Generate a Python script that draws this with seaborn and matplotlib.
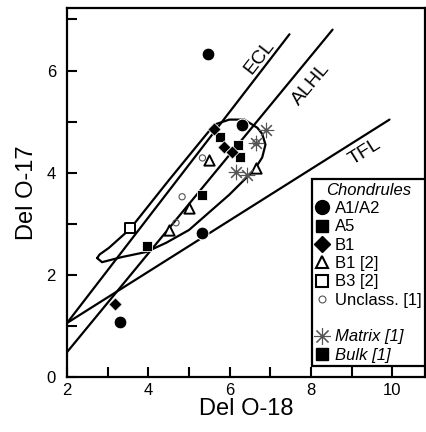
import matplotlib
matplotlib.use("Agg")
import matplotlib.pyplot as plt
import seaborn as sns
import pandas as pd
from matplotlib.lines import Line2D

# ---- reference lines (end points) ----
ecl_x = [2.0, 7.47]
ecl_y = [1.06, 6.71]
alhl_x = [2.0, 8.53]
alhl_y = [0.49, 6.80]
tfl_x = [2.0, 9.93]
tfl_y = [1.06, 5.04]

# ---- envelope around the chondrule data ----
loop_x = [2.74, 2.86, 3.35, 3.95, 4.44, 5.00, 5.99, 6.61, 6.80, 6.88, 6.80, 6.68,
          6.36, 5.99, 5.62, 4.51, 3.55, 3.03, 2.80, 2.74]
loop_y = [2.33, 2.25, 2.35, 2.45, 2.63, 2.88, 3.57, 4.06, 4.30, 4.55, 4.76, 4.88,
          5.04, 5.04, 4.94, 3.86, 2.90, 2.53, 2.40, 2.33]

# ---- chondrule groups ----
a12_x = [5.47, 6.31, 5.32, 3.30]
a12_y = [6.33, 4.94, 2.82, 1.08]
a5_x = [3.97, 5.33, 6.20, 6.25, 5.75]
a5_y = [2.57, 3.57, 4.55, 4.30, 4.70]
b1_x = [3.18, 5.62, 5.85, 6.05]
b1_y = [1.43, 4.85, 4.50, 4.40]
b1b_x = [4.51, 5.00, 5.50, 6.65]
b1b_y = [2.88, 3.31, 4.25, 4.10]
b3_x = [3.55]
b3_y = [2.92]
uncl_x = [4.68, 4.83, 5.33, 6.65]
uncl_y = [3.02, 3.53, 4.29, 4.59]
matrix_x = [6.90, 6.65, 6.16, 6.43]
matrix_y = [4.84, 4.59, 4.02, 3.96]

sns.set_theme(style="ticks")
plt.rcParams["font.family"] = ["Liberation Sans", "DejaVu Sans"]
plt.rcParams["text.color"] = "black"
plt.rcParams["axes.labelcolor"] = "black"

fig = plt.figure(figsize=(4.27, 4.32), dpi=100)
ax = fig.add_axes([0.157, 0.127, 0.838, 0.854])

lw = 1.6
for lx, ly in [(ecl_x, ecl_y), (alhl_x, alhl_y), (tfl_x, tfl_y)]:
    sns.lineplot(x=lx, y=ly, ax=ax, color="black", linewidth=lw, sort=False, estimator=None)
ax.plot(loop_x, loop_y, color="black", linewidth=lw)

matrix_marker = (8, 2, 0)
groups = [
    (a12_x, a12_y, dict(marker="o", s=85, color="black")),
    (a5_x, a5_y, dict(marker="s", s=55, color="black")),
    (b1_x, b1_y, dict(marker="D", s=45, color="black")),
    (b1b_x, b1b_y, dict(marker="^", s=55, facecolor="white", edgecolor="black", linewidth=1.4)),
    (b3_x, b3_y, dict(marker="s", s=55, facecolor="white", edgecolor="black", linewidth=1.4)),
    (uncl_x, uncl_y, dict(marker="o", s=20, facecolor="none", edgecolor="#555555", linewidth=0.8)),
    (matrix_x, matrix_y, dict(marker=matrix_marker, s=110, color="#555555", linewidth=0.8)),
]
for gx, gy, kw in groups:
    sns.scatterplot(x=gx, y=gy, ax=ax, zorder=3, **kw)

ax.text(6.73, 6.25, "ECL", rotation=52, fontsize=14, ha="center", va="center", color="black")
ax.text(8.01, 5.73, "ALHL", rotation=50, fontsize=14, ha="center", va="center", color="black")
ax.text(9.32, 4.41, "TFL", rotation=32, fontsize=14, ha="center", va="center", color="black")

ax.set_xlim(2, 10.8)
ax.set_ylim(0, 7.22)
ax.set_xticks(range(2, 11))
ax.set_xticklabels([str(v) if v % 2 == 0 else "" for v in range(2, 11)])
ax.set_yticks(range(0, 8))
ax.set_yticklabels([str(v) if v % 2 == 0 else "" for v in range(0, 8)])
ax.tick_params(direction="in", length=7, width=1.5, labelsize=12, colors="black")
ax.tick_params(axis="y", pad=8)
ax.tick_params(axis="x", pad=4)
for sp in ax.spines.values():
    sp.set_visible(True)
    sp.set_linewidth(1.6)
    sp.set_color("black")
ax.set_xlabel("Del O-18", fontsize=17, labelpad=0)
ax.set_ylabel("Del O-17", fontsize=17, labelpad=6)

# legend (blank row separates chondrules from matrix / bulk)
handles = [
    Line2D([], [], ls="none", marker="o", ms=10, color="black"),
    Line2D([], [], ls="none", marker="s", ms=9, color="black"),
    Line2D([], [], ls="none", marker="D", ms=8, color="black"),
    Line2D([], [], ls="none", marker="^", ms=9, mfc="white", mec="black", mew=1.5),
    Line2D([], [], ls="none", marker="s", ms=8, mfc="white", mec="black", mew=1.5),
    Line2D([], [], ls="none", marker="o", ms=5, mfc="none", mec="#555555", mew=0.8),
    Line2D([], [], ls="none"),
    Line2D([], [], ls="none", marker=matrix_marker, ms=12, color="#555555", mew=0.8),
    Line2D([], [], ls="none", marker="s", ms=9, color="black"),
]
labels = ["A1/A2", "A5", "B1", "B1 [2]", "B3 [2]", "Unclass. [1]", " ", "Matrix [1]", "Bulk [1]"]
leg = ax.legend(handles, labels, loc="lower right", bbox_to_anchor=(1.0, 0.03),
                borderaxespad=0, fontsize=12, title="Chondrules",
                title_fontsize=12, frameon=True, fancybox=False,
                handlelength=0.8, handletextpad=0.35, labelspacing=0.2,
                borderpad=0.2, edgecolor="black", framealpha=1)
leg.get_frame().set_linewidth(1.6)
leg.get_title().set_style("italic")
leg.get_title().set_color("black")
for t in leg.get_texts():
    t.set_color("black")
for t in leg.get_texts()[7:]:
    t.set_style("italic")

fig.savefig("out.png", dpi=100)
